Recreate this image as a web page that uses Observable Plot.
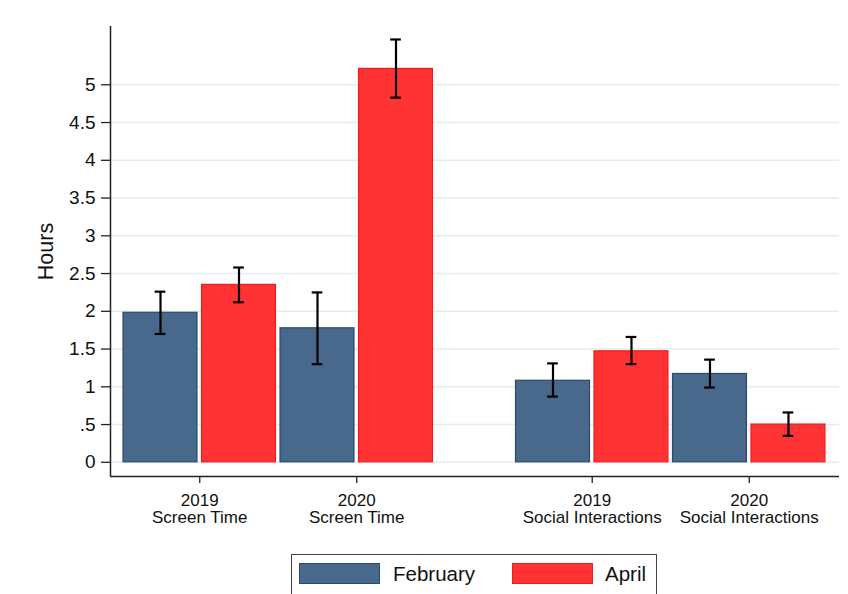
<!DOCTYPE html>
<html>
<head>
<meta charset="utf-8">
<script src="https://cdn.jsdelivr.net/npm/d3@7"></script>
<script src="https://cdn.jsdelivr.net/npm/@observablehq/plot@0.6"></script>
<style>
  html, body { margin: 0; padding: 0; background: #fff; }
  #wrap { position: relative; width: 848px; height: 594px; overflow: hidden; font-family: "Liberation Sans", Arial, sans-serif; }
  #legend { position: absolute; left: 291px; top: 554px; width: 366px; height: 46px; border: 1.5px solid #444; box-sizing: border-box; background: #fff; }
  .sw { position: absolute; top: 8px; width: 81px; height: 21px; box-sizing: border-box; }
  .lt { position: absolute; top: 7px; font-size: 20.5px; color: #111; line-height: 24px; }
</style>
</head>
<body>
<div id="wrap">
  <div id="chart"></div>
  <div id="legend"></div>
</div>
<script>
// ---- data ----
const groups = ["2019\nScreen Time", "2020\nScreen Time", "2019\nSocial Interactions", "2020\nSocial Interactions"];
const months = ["February", "April"];
const febMean = [1.98, 1.775, 1.08, 1.17];
const febLo   = [1.70, 1.30, 0.87, 0.99];
const febHi   = [2.26, 2.25, 1.31, 1.36];
const aprMean = [2.35, 5.21, 1.47, 0.50];
const aprLo   = [2.12, 4.83, 1.30, 0.35];
const aprHi   = [2.58, 5.60, 1.66, 0.66];
const yTicks  = [0, 0.5, 1, 1.5, 2, 2.5, 3, 3.5, 4, 4.5, 5];

// ---- styling ----
const fills   = {February: "#48698b", April: "#ff3333"};
const strokes = {February: "#2b4a6b", April: "#f01c1c"};

// slot index: each bar one slot, with one empty slot between the two variables
const slotOf = (g, m) => 2 * g + m + (g >= 2 ? 1 : 0);
const rows = [];
groups.forEach((g, gi) => {
  months.forEach((m, mi) => {
    const mean = mi === 0 ? febMean[gi] : aprMean[gi];
    const lo = mi === 0 ? febLo[gi] : aprLo[gi];
    const hi = mi === 0 ? febHi[gi] : aprHi[gi];
    rows.push({group: g, month: m, slot: slotOf(gi, mi), mean, lo, hi});
  });
});
const groupCenters = groups.map((g, gi) => slotOf(gi, 0) + 0.5);

const xDomain = [-0.637, 8.65];
const yDomain = [-0.188, 5.772];
const half = 0.471;   // half bar width in slot units
const cap = 0.068;    // half cap width in slot units

const fmtY = d => String(d).replace(/^0\./, ".");

const chart = Plot.plot({
  width: 848,
  height: 540,
  marginLeft: 110,
  marginRight: 9,
  marginTop: 26,
  marginBottom: 64,
  style: {fontFamily: "'Liberation Sans', Arial, sans-serif", background: "#fff", color: "#111"},
  x: {type: "linear", domain: xDomain},
  y: {domain: yDomain},
  marks: [
    Plot.ruleY(yTicks, {stroke: "#e3edf0", strokeWidth: 1.6}),
    Plot.rect(rows, {
      x1: d => d.slot - half, x2: d => d.slot + half,
      y1: 0, y2: "mean",
      fill: d => fills[d.month], stroke: d => strokes[d.month], strokeWidth: 1.2
    }),
    Plot.ruleX(rows, {x: "slot", y1: "lo", y2: "hi", stroke: "#000", strokeWidth: 2.2}),
    Plot.ruleY(rows, {y: "lo", x1: d => d.slot - cap, x2: d => d.slot + cap, stroke: "#000", strokeWidth: 2.2}),
    Plot.ruleY(rows, {y: "hi", x1: d => d.slot - cap, x2: d => d.slot + cap, stroke: "#000", strokeWidth: 2.2}),
    Plot.ruleX([xDomain[0]], {stroke: "#222", strokeWidth: 1.5}),
    Plot.ruleY([yDomain[0]], {stroke: "#222", strokeWidth: 1.5}),
    Plot.axisY({
      ticks: yTicks, tickFormat: fmtY, tickSize: 9, tickPadding: 6,
      fontSize: 19, stroke: "#222", strokeWidth: 1.3, label: null
    }),
    Plot.axisY({
      ticks: [], tickSize: 0, fontSize: 21.5,
      label: "Hours", labelAnchor: "center", labelOffset: 73, labelArrow: "none"
    }),
    Plot.axisX({
      ticks: groupCenters, tickFormat: (d, i) => groups[i], tickSize: 7, tickPadding: 10,
      fontSize: 17, lineHeight: 1.02, stroke: "#222", strokeWidth: 1.3, label: null
    })
  ]
});
document.getElementById("chart").appendChild(chart);

// legend
const legend = document.getElementById("legend");
const legendPos = [{sw: 7, tx: 101}, {sw: 220, tx: 313}];
months.forEach((m, i) => {
  const s = document.createElement("div");
  s.className = "sw";
  s.style.left = legendPos[i].sw + "px";
  s.style.background = fills[m];
  s.style.border = "1.5px solid " + strokes[m];
  legend.appendChild(s);
  const t = document.createElement("div");
  t.className = "lt";
  t.style.left = legendPos[i].tx + "px";
  t.textContent = m;
  legend.appendChild(t);
});
</script>
</body>
</html>
